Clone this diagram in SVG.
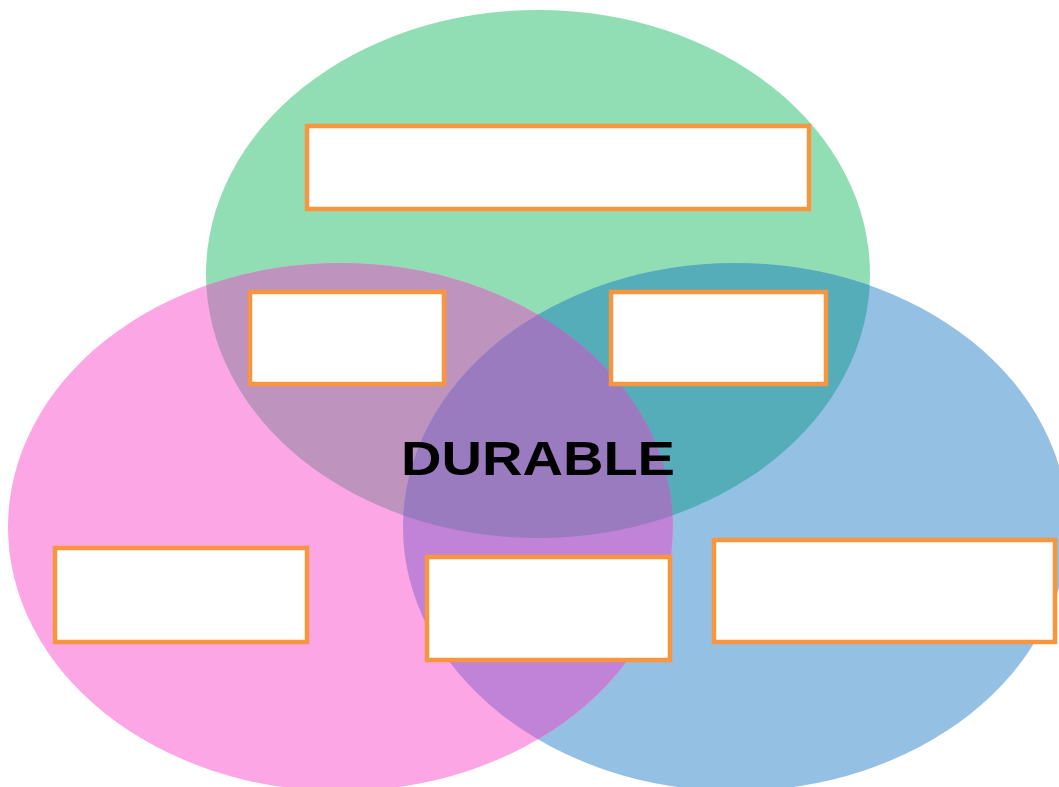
<svg xmlns="http://www.w3.org/2000/svg" width="1059" height="787" viewBox="0 0 1059 787">
<style>
.box{fill:#ffffff;stroke:#F7963F;stroke-width:4.5}
.lbl{font-family:"Liberation Sans",Arial,sans-serif;font-weight:bold;font-size:48px;fill:#000}
</style>
<defs>
<clipPath id="cg"><ellipse cx="538" cy="274" rx="332" ry="264"/></clipPath>
<clipPath id="cb"><ellipse cx="735.5" cy="527" rx="332.5" ry="264"/></clipPath>
</defs>
<rect width="1059" height="787" fill="#ffffff"/>
<g id="venn">
<ellipse id="green" cx="538" cy="274" rx="332" ry="264" fill="#92DEB4"/>
<ellipse id="blue" cx="735.5" cy="527" rx="332.5" ry="264" fill="#93C0E3"/>
<ellipse id="pink" cx="340.5" cy="527" rx="332.5" ry="264" fill="#FCA6E6"/>
<ellipse cx="340.5" cy="527" rx="332.5" ry="264" fill="#BE94BE" clip-path="url(#cg)"/>
<ellipse cx="735.5" cy="527" rx="332.5" ry="264" fill="#55ADBA" clip-path="url(#cg)"/>
<ellipse cx="340.5" cy="527" rx="332.5" ry="264" fill="#C183D7" clip-path="url(#cb)"/>
<g clip-path="url(#cb)"><ellipse cx="340.5" cy="527" rx="332.5" ry="264" fill="#9B7BC0" clip-path="url(#cg)"/></g>
</g>
<g id="connectors"></g>
<g id="box-top"><rect class="box" x="307" y="126" width="502" height="83"/></g>
<g id="box-mid-left"><rect class="box" x="250" y="292" width="194" height="92"/></g>
<g id="box-mid-right"><rect class="box" x="611" y="292" width="215" height="92"/></g>
<g id="box-bottom-left"><rect class="box" x="55" y="548" width="252" height="94"/></g>
<g id="box-bottom-mid"><rect class="box" x="427" y="557" width="243" height="103"/></g>
<g id="box-bottom-right"><rect class="box" x="714" y="540" width="341" height="102"/></g>
<g id="center-label"><text class="lbl" x="401" y="475" textLength="274" lengthAdjust="spacingAndGlyphs">DURABLE</text></g>
</svg>
